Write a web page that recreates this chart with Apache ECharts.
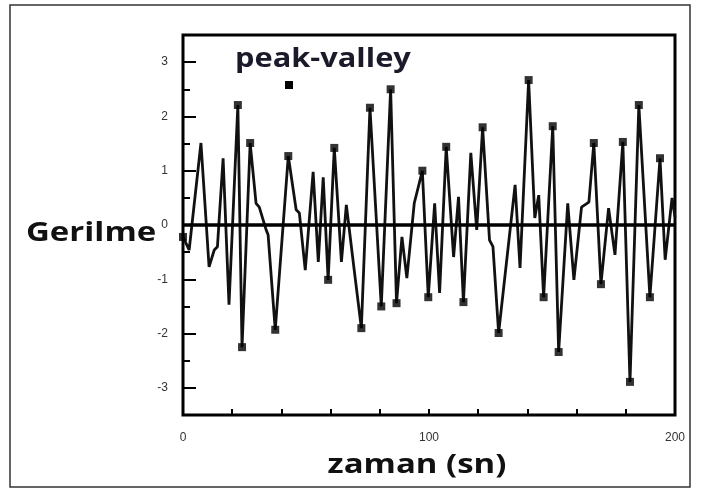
<!DOCTYPE html>
<html>
<head>
<meta charset="utf-8">
<script src="https://cdn.jsdelivr.net/npm/echarts@6/dist/echarts.min.js"></script>
<style>
html,body{margin:0;padding:0;background:#fff;}
#chart{width:701px;height:493px;}
</style>
</head>
<body>
<div id="chart"></div>
<script>
// zaman (sn) / gerilme okumalari
var times = [0, 2.5, 7.3, 10.6, 12.7, 14, 16.3, 18.7, 22.3, 24, 27.3, 29.7, 31, 33.8, 34.6, 37.5,
	42.8, 46, 47.3, 49.7, 52.9, 55, 57, 59, 61.5, 64.4, 66.4, 69.6, 72.5, 76, 80.6, 84.4, 86.8,
	89, 91, 94, 97.3, 99.7, 102.3, 104.3, 107, 110, 112, 114, 117, 119.4, 121.8, 124.6, 126, 128.3,
	135, 137, 140.5, 143, 144.6, 146.6, 150.3, 152.7, 156.4, 158.9, 162, 165, 167, 169.9, 173,
	175.6, 178.8, 181.7, 185.3, 189.8, 193.9, 196, 198.8, 200];
var strain = [-0.22, -0.46, 1.51, -0.77, -0.46, -0.4, 1.23, -1.47, 2.21, -2.25, 1.51, 0.4, 0.33, -0.09, -0.18, -1.93,
	1.27, 0.28, 0.22, -0.83, 0.98, -0.68, 0.88, -1.01, 1.42, -0.68, 0.37, -0.83, -1.9, 2.16, -1.5, 2.5, -1.44,
	-0.22, -0.98, 0.4, 1.0, -1.33, 0.4, -1.25, 1.44, -0.59, 0.52, -1.42, 1.33, -0.09, 1.8, -0.28, -0.4, -1.99,
	0.74, -0.79, 2.67, 0.13, 0.55, -1.33, 1.82, -2.34, 0.4, -1.01, 0.33, 0.42, 1.51, -1.09, 0.31,
	-0.55, 1.53, -2.89, 2.21, -1.33, 1.23, -0.64, 0.5, 0.15];
// kare ile isaretlenen tepe/cukur noktalari (index)
var peakValleyIdx = [0, 8, 9, 10, 15, 16, 23, 24, 28, 29, 30, 31, 32, 36, 37, 40, 43, 46, 49,
	52, 55, 56, 57, 62, 63, 66, 67, 68, 69, 70];
var xLabels = [0, 100, 200];
var yLabels = [-3, -2, -1, 0, 1, 2, 3];

var chart = echarts.init(document.getElementById('chart'));

var lineData = [];
for (var i = 0; i < times.length; i++) {
	lineData.push([times[i], strain[i]]);
}
var markData = peakValleyIdx.map(function(k) {
	return [times[k], strain[k]];
});

var G_TOP = 35, G_BOTTOM = 78, G_H = 493 - G_TOP - G_BOTTOM;
var half = G_H / 14; // 0.5 birim

var option = {
	animation: false,
	backgroundColor: '#fff',
	grid: [
		{left: 183, right: 26, top: G_TOP, bottom: G_BOTTOM, show: true, borderColor: '#000', borderWidth: 3, backgroundColor: 'transparent'},
		{left: 183, right: 26, top: G_TOP + half, bottom: G_BOTTOM + half, show: false}
	],
	xAxis: [{
		type: 'value', gridIndex: 0, min: 0, max: 200, interval: 20,
		axisLine: {show: false, onZero: false},
		axisTick: {inside: true, length: 6, lineStyle: {color: '#000', width: 2}},
		axisLabel: {
			color: '#333', fontSize: 12, fontFamily: 'Liberation Sans', margin: 17,
			formatter: function(v) { return xLabels.indexOf(v) >= 0 ? String(v) : ''; }
		},
		splitLine: {show: false}
	}, {
		type: 'value', gridIndex: 1, min: 0, max: 200, show: false
	}],
	yAxis: [{
		type: 'value', gridIndex: 0, min: -3.5, max: 3.5, interval: 0.5,
		axisLine: {show: false, onZero: false},
		axisTick: {inside: true, length: 7, lineStyle: {color: '#000', width: 2}},
		axisLabel: {show: false},
		splitLine: {show: false}
	}, {
		type: 'value', gridIndex: 1, min: -3, max: 3, interval: 1,
		axisLine: {show: false, onZero: false},
		axisTick: {inside: true, length: 13, lineStyle: {color: '#000', width: 2}},
		axisLabel: {
			color: '#333', fontSize: 12, fontFamily: 'Liberation Sans', margin: 15,
			formatter: function(v) { return yLabels.indexOf(v) >= 0 ? String(v) : ''; }
		},
		splitLine: {show: false}
	}],
	series: [{
		name: 'gerilme',
		type: 'line',
		xAxisIndex: 0, yAxisIndex: 0,
		data: lineData,
		symbol: 'none',
		lineStyle: {color: '#111', width: 2.8},
		markLine: {
			silent: true,
			symbol: 'none',
			label: {show: false},
			lineStyle: {color: '#000', width: 3.5, type: 'solid'},
			data: [{yAxis: 0}]
		}
	}, {
		name: 'peak-valley',
		type: 'scatter',
		xAxisIndex: 0, yAxisIndex: 0,
		data: markData,
		symbol: 'rect',
		symbolSize: 8,
		itemStyle: {color: '#000'},
		z: 5
	}],
	graphic: [
		{type: 'rect', shape: {x: 10, y: 5, width: 680, height: 482}, style: {fill: 'none', stroke: '#333', lineWidth: 1.5}},
		{type: 'text', x: 235, y: 46, scaleX: 1.14, style: {text: 'peak-valley', font: 'bold 27px "Open Sans"', fill: '#1a1a2a', textVerticalAlign: 'top'}},
		{type: 'rect', shape: {x: 285, y: 81, width: 8, height: 8}, style: {fill: '#000'}},
		{type: 'text', x: 26, y: 233, scaleX: 1.22, style: {text: 'Gerilme', font: 'bold 27px "Open Sans"', fill: '#111', textVerticalAlign: 'middle'}},
		{type: 'text', x: 417, y: 465, scaleX: 1.22, style: {text: 'zaman (sn)', font: 'bold 27px "Open Sans"', fill: '#111', textAlign: 'center', textVerticalAlign: 'middle'}}
	]
};

chart.setOption(option);
</script>
</body>
</html>
